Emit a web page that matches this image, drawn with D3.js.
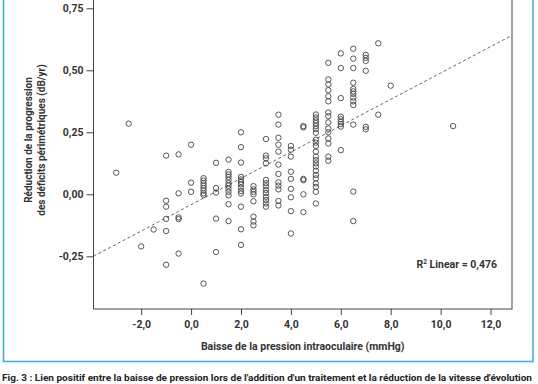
<!DOCTYPE html>
<html>
<head>
<meta charset="utf-8">
<script src="https://cdn.jsdelivr.net/npm/d3@7"></script>
<style>
  html, body { margin: 0; padding: 0; background: #fff; }
  svg { display: block; font-family: Roboto, "DejaVu Sans", sans-serif; }
</style>
</head>
<body>
<svg id="chart" width="538" height="384"></svg>
<script>
// IOP reduction (mmHg), one entry per column of points
let iopColumns = [-3.0, -2.5, -2.0, -1.5, -1.0, -0.5, 0.0, 0.5, 1.0, 1.5, 2.0, 2.5,
  3.0, 3.5, 4.0, 4.5, 5.0, 5.5, 6.0, 6.5, 7.0, 7.5, 8.0, 10.5]

// Reduction of progression (dB/yr) for each column
let progressionValues = [
  [0.087],
  [0.285],
  [-0.21],
  [-0.142],
  [0.156, -0.026, -0.05, -0.099, -0.148, -0.284],
  [0.161, 0.004, -0.093, -0.1, -0.239],
  [0.2, 0.047, 0.01],
  [0.065, 0.055, 0.045, 0.035, 0.025, 0.015, 0.004, -0.003, -0.36],
  [0.127, 0.025, 0.007, -0.098, -0.233],
  [0.14, 0.09, 0.08, 0.07, 0.058, 0.045, 0.035, 0.023, 0.01, -0.004, -0.04, -0.108],
  [0.25, 0.19, 0.128, 0.07, 0.06, 0.05, 0.04, 0.027, 0.013, 0.003, -0.05, -0.141, -0.204],
  [0.033, 0.02, 0.01, 0.0, -0.028, -0.09, -0.11, -0.125],
  [0.223, 0.156, 0.145, 0.125, 0.058, 0.045, 0.032, 0.018, 0.005, -0.01, -0.023, -0.037, -0.05],
  [0.321, 0.281, 0.228, 0.2, 0.172, 0.12, 0.082, 0.048, 0.035, 0.02, -0.027, -0.045],
  [0.195, 0.18, 0.152, 0.091, 0.062, 0.022, -0.012, -0.068, -0.158],
  [0.275, 0.27, 0.062, 0.057, 0.0, -0.072],
  [0.322, 0.31, 0.298, 0.287, 0.275, 0.263, 0.248, 0.22, 0.208, 0.195, 0.172, 0.152,
    0.138, 0.125, 0.112, 0.095, 0.078, 0.064, 0.044, 0.03, 0.01, -0.037],
  [0.53, 0.463, 0.443, 0.42, 0.395, 0.375, 0.33, 0.315, 0.29, 0.265, 0.25, 0.225, 0.205, 0.152, 0.135],
  [0.568, 0.509, 0.388, 0.313, 0.303, 0.293, 0.283, 0.273, 0.178],
  [0.587, 0.547, 0.509, 0.45, 0.425, 0.415, 0.405, 0.39, 0.375, 0.36, 0.281, 0.011, -0.108],
  [0.562, 0.55, 0.538, 0.498, 0.272, 0.262],
  [0.609, 0.321],
  [0.438],
  [0.275]
]

let xTicks = [-2, 0, 2, 4, 6, 8, 10, 12]
let yTicks = [-0.25, 0, 0.25, 0.5, 0.75]

// Linear fit shown as the dashed line
let fitIntercept = -0.042
let fitSlope = 0.0531
let rSquared = 0.476

let xLabel = "Baisse de la pression intraoculaire (mmHg)"
let yLabelLines = ["Réduction de la progression", "des déficits périmétriques (dB/yr)"]
let caption = "Fig. 3 : Lien positif entre la baisse de pression lors de l'addition d'un traitement et la réduction de la vitesse d'évolution"

let points = []
iopColumns.forEach((x, i) => progressionValues[i].forEach(y => points.push({ x, y })))

let svg = d3.select("#chart")
let textColour = "#333"
// French decimals, plain hyphen for negatives
let frNum = (v, digits) => d3.format(`.${digits}f`)(v).replace(".", ",").replace("−", "-")

let x = d3.scaleLinear().domain([-3.91, 12.86]).range([93.5, 512])
let y = d3.scaleLinear().domain([-0.4625, 0.9]).range([309, -28.9])

// Blue frame round the figure
svg.append("rect")
  .attr("x", 3.5).attr("y", -10)
  .attr("width", 529.5).attr("height", 371.5)
  .attr("fill", "none")
  .attr("stroke", "#45aedb")
  .attr("stroke-width", 1.6)

// Plot box
svg.append("rect")
  .attr("x", x.range()[0]).attr("y", y.range()[1])
  .attr("width", x.range()[1] - x.range()[0])
  .attr("height", y.range()[0] - y.range()[1])
  .attr("fill", "none")
  .attr("stroke", "#444")
  .attr("stroke-width", 1)

// Axes
let yAxis = svg.append("g")
  .attr("transform", `translate(${x.range()[0]},0)`)
  .call(d3.axisLeft(y).tickValues(yTicks).tickSize(7).tickPadding(3)
    .tickFormat(d => frNum(d, 2)))
let xAxis = svg.append("g")
  .attr("transform", `translate(0,${y.range()[0]})`)
  .call(d3.axisBottom(x).tickValues(xTicks).tickSize(6).tickPadding(6)
    .tickFormat(d => frNum(d, 1)))

for (let ax of [xAxis, yAxis]) {
  ax.select(".domain").remove()
  ax.selectAll(".tick line").attr("stroke", "#444")
  ax.selectAll(".tick text")
    .attr("fill", textColour)
    .attr("font-size", 10.5)
    .attr("font-weight", 700)
    .attr("font-family", "Roboto, sans-serif")
}

// Regression line
let xd = x.domain()
svg.append("line")
  .attr("x1", x(xd[0])).attr("y1", y(fitIntercept + fitSlope * xd[0]))
  .attr("x2", x(xd[1])).attr("y2", y(fitIntercept + fitSlope * xd[1]))
  .attr("stroke", "#666")
  .attr("stroke-width", 1)
  .attr("stroke-dasharray", "3,2.5")

// Points
svg.append("g")
  .selectAll("circle")
  .data(points)
  .join("circle")
  .attr("cx", d => x(d.x))
  .attr("cy", d => y(d.y))
  .attr("r", 2.7)
  .attr("fill", "none")
  .attr("stroke", "#444")
  .attr("stroke-width", 0.9)

// R² annotation
let r2 = svg.append("text")
  .attr("x", 497).attr("y", 268)
  .attr("text-anchor", "end")
  .attr("fill", textColour)
  .attr("font-size", 10.5)
  .attr("font-weight", 700)
r2.append("tspan").text("R")
r2.append("tspan").text("2").attr("font-size", 6.5).attr("dy", -4)
r2.append("tspan").text(` Linear = ${frNum(rSquared, 3)}`).attr("dy", 4)

// Axis titles
svg.append("text")
  .attr("x", (x.range()[0] + x.range()[1]) / 2).attr("y", 350)
  .attr("text-anchor", "middle")
  .attr("fill", textColour)
  .attr("font-size", 10.5)
  .attr("font-weight", 700)
  .text(xLabel)

svg.append("g")
  .attr("transform", "translate(0,140) rotate(-90)")
  .selectAll("text")
  .data(yLabelLines)
  .join("text")
  .attr("x", 0)
  .attr("y", (d, i) => 32 + i * 13)
  .attr("text-anchor", "middle")
  .attr("fill", textColour)
  .attr("font-size", 10)
  .attr("font-weight", 700)
  .text(d => d)

// Caption under the framed figure
svg.append("text")
  .attr("x", 2).attr("y", 381)
  .attr("fill", "#222")
  .attr("font-size", 9.5)
  .attr("font-weight", 700)
  .attr("textLength", 530)
  .attr("lengthAdjust", "spacingAndGlyphs")
  .text(caption)
</script>
</body>
</html>
